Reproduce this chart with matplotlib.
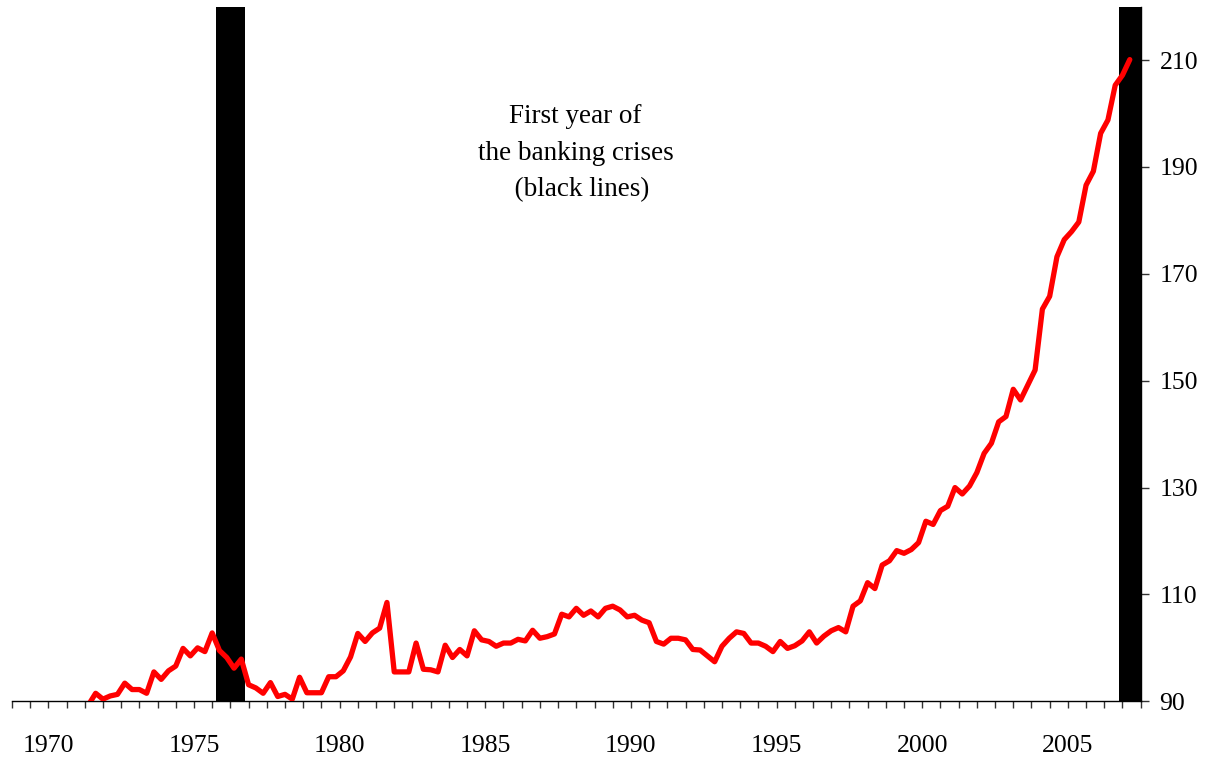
import numpy as np
import pandas as pd
import matplotlib
matplotlib.use("Agg")
import matplotlib.pyplot as plt

plt.rcParams["font.family"] = ["Liberation Serif", "DejaVu Serif"]

# Quarterly index, first value is 1971Q2 (below the axis, clipped)
first_quarter = "1971Q2"
index_values = [
    89.3, 91.5, 90.4, 91.0, 91.3, 93.4, 92.2, 92.2, 91.5, 95.5,
    94.1, 95.7, 96.6, 99.9, 98.5, 100.0, 99.3, 102.8, 99.5, 98.2,
    96.2, 97.9, 93.1, 92.5, 91.5, 93.5, 90.9, 91.3, 90.4, 94.5,
    91.6, 91.6, 91.6, 94.6, 94.6, 95.7, 98.3, 102.7, 101.2, 102.8,
    103.7, 108.5, 95.5, 95.5, 95.5, 100.9, 96.0, 95.9, 95.5, 100.5,
    98.2, 99.7, 98.5, 103.2, 101.5, 101.2, 100.3, 100.9, 100.9, 101.6,
    101.3, 103.3, 101.8, 102.1, 102.6, 106.3, 105.8, 107.4, 106.1, 106.9,
    105.8, 107.4, 107.8, 107.1, 105.8, 106.1, 105.2, 104.7, 101.2, 100.7,
    101.8, 101.8, 101.5, 99.7, 99.6, 98.5, 97.4, 100.3, 101.8, 103.0,
    102.7, 100.9, 100.9, 100.3, 99.3, 101.2, 99.9, 100.4, 101.3, 103.0,
    100.9, 102.2, 103.2, 103.8, 103.0, 107.8, 108.8, 112.2, 111.1, 115.5,
    116.3, 118.2, 117.7, 118.4, 119.7, 123.7, 123.1, 125.7, 126.5, 130.0,
    128.8, 130.3, 132.8, 136.4, 138.3, 142.3, 143.3, 148.4, 146.4, 149.2,
    152.0, 163.4, 165.8, 173.2, 176.4, 177.9, 179.7, 186.6, 189.2, 196.3,
    198.8, 205.3, 207.2, 210.1,
]

crisis_years = [1976, 2007]
label_years = [1970, 1975, 1980, 1985, 1990, 1995, 2000, 2005]
y_ticks = [90, 110, 130, 150, 170, 190, 210]

quarters = pd.period_range(first_quarter, periods=len(index_values), freq="Q")
x = np.asarray(quarters.year + (quarters.quarter - 1) / 4 + 0.125, dtype=float)

fig = plt.figure(figsize=(12.1, 7.61), dpi=100)
ax = fig.add_axes([11.9 / 1210, 1 - 701.3 / 761, (1140.7 - 11.9) / 1210, (701.3 - 6.7) / 761])

for yr in crisis_years:
    ax.axvspan(yr - 0.25, yr + 0.75, color="black", lw=0, zorder=1)

ax.plot(x, index_values, color="#ff0000", lw=3.8, solid_joinstyle="round",
        solid_capstyle="round", zorder=3)

ax.set_xlim(1968.75, 2007.5)
ax.set_ylim(90, 220)

ax.set_xticks(label_years)
ax.set_xticklabels([str(y) for y in label_years])
ax.set_xticks(np.arange(1968.75, 2007.51, 0.625), minor=True)
ax.tick_params(axis="x", which="both", direction="out", length=5, width=1,
               color="#333333")
ax.tick_params(axis="x", which="major", labelsize=18.5, pad=19.5)

ax.yaxis.tick_right()
ax.set_yticks(y_ticks)
ax.tick_params(axis="y", direction="out", length=5.5, width=1, labelsize=18.5,
               pad=8, color="#333333")

for side in ["top", "left"]:
    ax.spines[side].set_visible(False)
ax.spines["bottom"].set_linewidth(1)
ax.spines["right"].set_linewidth(1)

ax.text(1988.1, 192.6, "First year of\nthe banking crises\n  (black lines)",
        ha="center", va="center", multialignment="center", fontsize=19.5,
        linespacing=1.6)

fig.savefig("out.png", dpi=100)
